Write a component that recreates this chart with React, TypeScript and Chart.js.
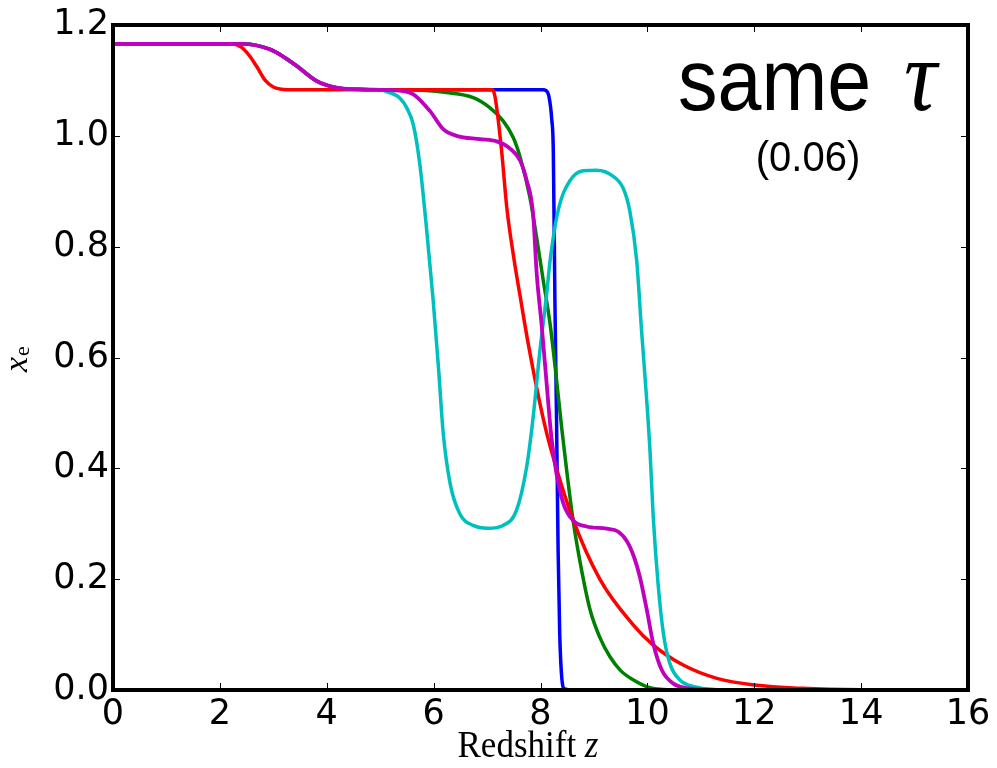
import React, { useEffect, useRef } from "react";
import { Chart, registerables } from "chart.js";

Chart.register(...registerables);

// ---- data ----
const xTicks = [0, 2, 4, 6, 8, 10, 12, 14, 16];
const yTicks = [0, 0.2, 0.4, 0.6, 0.8, 1.0, 1.2];

const blueZ = [0, 2.4, 2.94, 3.2, 3.44, 3.81, 4.18, 4.6, 5.0, 8.05, 8.1, 8.16, 8.21, 8.24, 8.27, 8.3, 8.33, 8.36, 8.4, 8.45, 8.6, 16];
const blueXe = [1.166, 1.166, 1.156, 1.142, 1.126, 1.099, 1.087, 1.084, 1.083, 1.083, 1.082, 1.07, 1.03, 0.97, 0.7, 0.49, 0.25, 0.1, 0.02, 0.002, 0, 0];

const greenZ = [0, 2.4, 2.94, 3.2, 3.44, 3.81, 4.18, 4.6, 5.0, 5.5, 6.24, 6.74, 7.05, 7.3, 7.49, 7.62, 7.8, 7.93, 8.05, 8.18, 8.3, 8.4, 8.49, 8.61, 8.77, 8.93, 9.11, 9.3, 9.5, 9.74, 10.05, 10.5, 16];
const greenXe = [1.166, 1.166, 1.156, 1.142, 1.126, 1.099, 1.087, 1.084, 1.083, 1.083, 1.078, 1.069, 1.051, 1.027, 0.997, 0.961, 0.89, 0.815, 0.74, 0.66, 0.56, 0.47, 0.396, 0.306, 0.216, 0.144, 0.095, 0.06, 0.035, 0.018, 0.004, 0, 0];

const redZ = [0, 2.2, 2.4, 2.55, 2.69, 2.85, 3.0, 3.15, 3.4, 7.1, 7.15, 7.27, 7.37, 7.5, 7.62, 7.77, 8.05, 8.18, 8.6, 9.11, 9.73, 10.1, 10.67, 11.3, 12, 12.9, 14, 16];
const redXe = [1.166, 1.166, 1.16, 1.145, 1.125, 1.1, 1.088, 1.084, 1.083, 1.083, 1.07, 0.975, 0.87, 0.78, 0.71, 0.625, 0.49, 0.44, 0.31, 0.2, 0.118, 0.082, 0.045, 0.021, 0.009, 0.003, 0.0005, 0];

const cyanZ = [0, 2.4, 2.94, 3.2, 3.44, 3.81, 4.18, 4.6, 5.0, 5.12, 5.37, 5.5, 5.62, 5.74, 5.87, 5.99, 6.09, 6.18, 6.31, 6.49, 6.74, 7.02, 7.3, 7.55, 7.74, 7.86, 7.99, 8.11, 8.18, 8.33, 8.55, 8.8, 9.05, 9.36, 9.55, 9.67, 9.8, 9.89, 9.99, 10.05, 10.11, 10.2, 10.3, 10.42, 10.61, 10.92, 11.5, 16];
const cyanXe = [1.166, 1.166, 1.156, 1.142, 1.126, 1.099, 1.087, 1.084, 1.083, 1.08, 1.068, 1.05, 1.02, 0.95, 0.83, 0.705, 0.583, 0.463, 0.372, 0.318, 0.297, 0.292, 0.297, 0.324, 0.402, 0.49, 0.613, 0.71, 0.775, 0.865, 0.919, 0.937, 0.938, 0.927, 0.905, 0.865, 0.775, 0.65, 0.52, 0.43, 0.312, 0.192, 0.102, 0.048, 0.018, 0.005, 0, 0];

const magentaZ = [0, 2.4, 2.94, 3.2, 3.44, 3.81, 4.18, 4.6, 5.0, 5.3, 5.62, 5.93, 6.18, 6.43, 6.87, 7.18, 7.43, 7.62, 7.74, 7.86, 7.93, 8.02, 8.1, 8.2, 8.3, 8.43, 8.61, 8.86, 9.24, 9.45, 9.62, 9.75, 9.86, 9.99, 10.11, 10.27, 10.48, 10.85, 11.5, 16];
const magentaXe = [1.166, 1.166, 1.156, 1.142, 1.126, 1.099, 1.087, 1.084, 1.083, 1.082, 1.075, 1.045, 1.012, 1.0, 0.994, 0.99, 0.977, 0.955, 0.92, 0.86, 0.75, 0.66, 0.57, 0.46, 0.39, 0.336, 0.306, 0.295, 0.291, 0.286, 0.268, 0.24, 0.204, 0.144, 0.084, 0.036, 0.012, 0.002, 0, 0];

const seriesColors = ["#0000ff", "#008000", "#ff0000", "#00bfbf", "#bf00bf"];

const toPts = (zs: number[], ys: number[]) => zs.map((z, i) => ({ x: z, y: ys[i] }));

const overlay = {
  id: "overlay",
  afterDatasetsDraw(chart: any) {
    const { ctx, chartArea: a, scales } = chart;
    const xs = scales.x;
    const ys = scales.y;
    ctx.save();
    // inward ticks on all four sides
    ctx.strokeStyle = "#000";
    ctx.lineWidth = 1;
    const tl = 7;
    ctx.beginPath();
    xTicks.forEach((v) => {
      const px = Math.round(xs.getPixelForValue(v)) + 0.5;
      ctx.moveTo(px, a.bottom);
      ctx.lineTo(px, a.bottom - tl);
      ctx.moveTo(px, a.top);
      ctx.lineTo(px, a.top + tl);
    });
    yTicks.forEach((v) => {
      const py = Math.round(ys.getPixelForValue(v)) + 0.5;
      ctx.moveTo(a.left, py);
      ctx.lineTo(a.left + tl, py);
      ctx.moveTo(a.right, py);
      ctx.lineTo(a.right - tl, py);
    });
    ctx.stroke();
    // frame
    ctx.lineWidth = 4;
    ctx.strokeRect(a.left, a.top, a.right - a.left, a.bottom - a.top);

    // annotation (slightly stretched vertically like the reference)
    ctx.fillStyle = "#000";
    ctx.textBaseline = "alphabetic";
    ctx.textAlign = "left";
    ctx.save();
    ctx.translate(0, 110);
    ctx.scale(1, 1.1);
    ctx.font = "79px 'Liberation Sans'";
    ctx.fillText("same", 678, 0);
    ctx.font = "italic 92px 'Liberation Serif'";
    const tw = ctx.measureText("τ").width;
    ctx.fillText("τ", 937 - tw, 0);
    ctx.restore();

    ctx.save();
    ctx.translate(808, 171);
    ctx.scale(1, 1.08);
    ctx.font = "40px 'Liberation Sans'";
    ctx.textAlign = "center";
    ctx.fillText("(0.06)", 0, 0);
    ctx.restore();

    // x axis title
    ctx.save();
    ctx.translate(0, 757);
    ctx.scale(1, 1.08);
    ctx.textAlign = "left";
    ctx.font = "35px 'Liberation Serif'";
    const t1 = "Redshift ";
    const tw1 = ctx.measureText(t1).width;
    ctx.font = "italic 35px 'Liberation Serif'";
    const tw2 = ctx.measureText("z").width;
    const tx = 528 - (tw1 + tw2) / 2;
    ctx.font = "35px 'Liberation Serif'";
    ctx.fillText(t1, tx, 0);
    ctx.font = "italic 35px 'Liberation Serif'";
    ctx.fillText("z", tx + tw1, 0);
    ctx.restore();

    // y axis title (rotated)
    ctx.save();
    ctx.translate(27, 372);
    ctx.rotate(-Math.PI / 2);
    ctx.textAlign = "left";
    ctx.font = "italic 34px 'Liberation Serif'";
    ctx.fillText("x", 0, 0);
    const xw = ctx.measureText("x").width;
    ctx.font = "22px 'Liberation Serif'";
    ctx.fillText("e", xw + 1, 2);
    ctx.restore();

    ctx.restore();
  },
};

export default function App() {
  const ref = useRef<HTMLCanvasElement | null>(null);
  useEffect(() => {
    if (!ref.current) return;
    const series = [
      { z: blueZ, v: blueXe },
      { z: greenZ, v: greenXe },
      { z: redZ, v: redXe },
      { z: cyanZ, v: cyanXe },
      { z: magentaZ, v: magentaXe },
    ];
    const chart = new Chart(ref.current, {
      type: "line",
      data: {
        datasets: series.map((s, i) => ({
          data: toPts(s.z, s.v),
          borderColor: seriesColors[i],
          backgroundColor: seriesColors[i],
          borderWidth: i === 4 ? 3.8 : 3.5,
          pointRadius: 0,
          fill: false,
          cubicInterpolationMode: "monotone" as const,
          order: series.length - i,
        })),
      },
      options: {
        responsive: false,
        animation: false,
        events: [],
        layout: { padding: { left: 0, top: 24, right: 29, bottom: 0 } },
        plugins: { legend: { display: false }, tooltip: { enabled: false }, title: { display: false } },
        scales: {
          x: {
            type: "linear",
            min: 0,
            max: 16,
            border: { display: false },
            grid: { display: false, drawTicks: false },
            afterBuildTicks: (scale: any) => {
              scale.ticks = xTicks.map((v) => ({ value: v }));
            },
            afterFit: (scale: any) => {
              scale.height = 78;
            },
            ticks: {
              color: "#000",
              font: { family: "'DejaVu Sans'", size: 35 },
              padding: 4,
              maxRotation: 0,
              autoSkip: false,
              callback: (v: any) => String(v),
            },
          },
          y: {
            type: "linear",
            min: 0,
            max: 1.2,
            border: { display: false },
            grid: { display: false, drawTicks: false },
            afterBuildTicks: (scale: any) => {
              scale.ticks = yTicks.map((v) => ({ value: v }));
            },
            afterFit: (scale: any) => {
              scale.width = 113;
            },
            ticks: {
              color: "#000",
              font: { family: "'DejaVu Sans'", size: 35 },
              padding: 4,
              autoSkip: false,
              callback: (v: any) => Number(v).toFixed(1),
            },
          },
        },
      },
      plugins: [overlay],
    });
    return () => chart.destroy();
  }, []);
  return (
    <div style={{ position: "absolute", left: 0, top: 0, width: 997, height: 768, background: "#fff" }}>
      <canvas ref={ref} width={997} height={768} style={{ display: "block" }} />
    </div>
  );
}
